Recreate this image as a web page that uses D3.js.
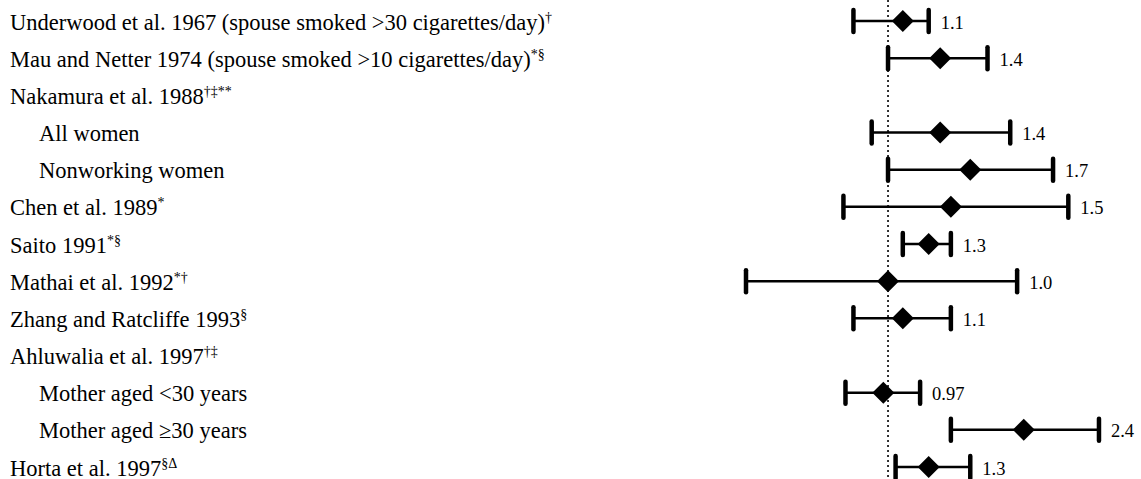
<!DOCTYPE html>
<html>
<head>
<meta charset="utf-8">
<script src="https://cdn.jsdelivr.net/npm/d3@7"></script>
<style>
  html, body { margin: 0; padding: 0; background: #fff; }
  svg { display: block; }
</style>
</head>
<body>
<svg id="chart" width="1141" height="479"></svg>
<script>
// Study labels: [main text, superscript marks]; indented rows are sub-groups
const studyLabels = [
  ["Underwood et al. 1967 (spouse smoked >30 cigarettes/day)", "\u2020"],
  ["Mau and Netter 1974 (spouse smoked >10 cigarettes/day)", "*\u00a7"],
  ["Nakamura et al. 1988", "\u2020\u2021**"],
  ["All women", ""],
  ["Nonworking women", ""],
  ["Chen et al. 1989", "*"],
  ["Saito 1991", "*\u00a7"],
  ["Mathai et al. 1992", "*\u2020"],
  ["Zhang and Ratcliffe 1993", "\u00a7"],
  ["Ahluwalia et al. 1997", "\u2020\u2021"],
  ["Mother aged <30 years", ""],
  ["Mother aged \u226530 years", ""],
  ["Horta et al. 1997", "\u00a7\u0394"]
];
const indented = [false, false, false, true, true, false, false, false, false, false, true, true, false];

// Odds ratios with 95% confidence limits (null for heading rows)
const oddsRatio = [1.1, 1.4, null, 1.4, 1.7, 1.5, 1.3, 1.0, 1.1, null, 0.97, 2.4, 1.3];
const lowerCI   = [0.8, 1.0, null, 0.9, 1.0, 0.75, 1.1, 0.4, 0.8, null, 0.76, 1.5, 1.05];
const upperCI   = [1.3, 1.9, null, 2.2, 2.9, 3.2, 1.5, 2.3, 1.5, null, 1.23, 3.9, 1.7];
const valueLabels = ["1.1", "1.4", "", "1.4", "1.7", "1.5", "1.3", "1.0", "1.1", "", "0.97", "2.4", "1.3"];

const svg = d3.select("#chart");
const W = 1141, H = 479;

const rows = d3.range(studyLabels.length);
const y = d3.scalePoint().domain(rows).range([21, 467]);
const x = d3.scaleLog().domain([0.4, 4.0]).range([746, 746 + 155 * Math.LN10]);

const serif = "'Liberation Serif', 'Times New Roman', serif";

// Reference line at OR = 1
svg.append("line")
  .attr("x1", x(1)).attr("x2", x(1))
  .attr("y1", 0).attr("y2", H)
  .attr("stroke", "#000")
  .attr("stroke-width", 1.6)
  .attr("stroke-dasharray", "2,3");

// Row labels
const labels = svg.append("g")
  .attr("font-family", serif)
  .attr("font-size", 22.5)
  .attr("fill", "#000");

rows.forEach(i => {
  const t = labels.append("text")
    .attr("x", indented[i] ? 39 : 10)
    .attr("y", y(i) + 8.5);
  t.append("tspan").text(studyLabels[i][0]);
  if (studyLabels[i][1]) {
    t.append("tspan")
      .attr("font-size", 14)
      .attr("dy", -8)
      .text(studyLabels[i][1]);
  }
});

// Confidence intervals, caps, diamonds and values
const data = rows.filter(i => oddsRatio[i] !== null);
const marks = svg.append("g");

marks.selectAll("line.ci")
  .data(data).join("line")
  .attr("class", "ci")
  .attr("x1", i => x(lowerCI[i])).attr("x2", i => x(upperCI[i]))
  .attr("y1", i => y(i)).attr("y2", i => y(i))
  .attr("stroke", "#000").attr("stroke-width", 2.5);

const capHalf = 11;
["lo", "hi"].forEach(side => {
  marks.selectAll("line.cap-" + side)
    .data(data).join("line")
    .attr("class", "cap-" + side)
    .attr("x1", i => x(side === "lo" ? lowerCI[i] : upperCI[i]))
    .attr("x2", i => x(side === "lo" ? lowerCI[i] : upperCI[i]))
    .attr("y1", i => y(i) - capHalf).attr("y2", i => y(i) + capHalf)
    .attr("stroke", "#000").attr("stroke-width", 4.5)
    .attr("stroke-linecap", "round");
});

const dHalfW = 11, dHalfH = 11;
marks.selectAll("path.or")
  .data(data).join("path")
  .attr("class", "or")
  .attr("d", i => {
    const cx = x(oddsRatio[i]), cy = y(i);
    return `M${cx - dHalfW},${cy}L${cx},${cy - dHalfH}L${cx + dHalfW},${cy}L${cx},${cy + dHalfH}Z`;
  })
  .attr("fill", "#000");

marks.selectAll("text.val")
  .data(data).join("text")
  .attr("class", "val")
  .attr("x", i => x(upperCI[i]) + 12)
  .attr("y", i => y(i) + 7.5)
  .attr("font-family", serif)
  .attr("font-size", 18.5)
  .attr("fill", "#000")
  .text(i => valueLabels[i]);
</script>
</body>
</html>
